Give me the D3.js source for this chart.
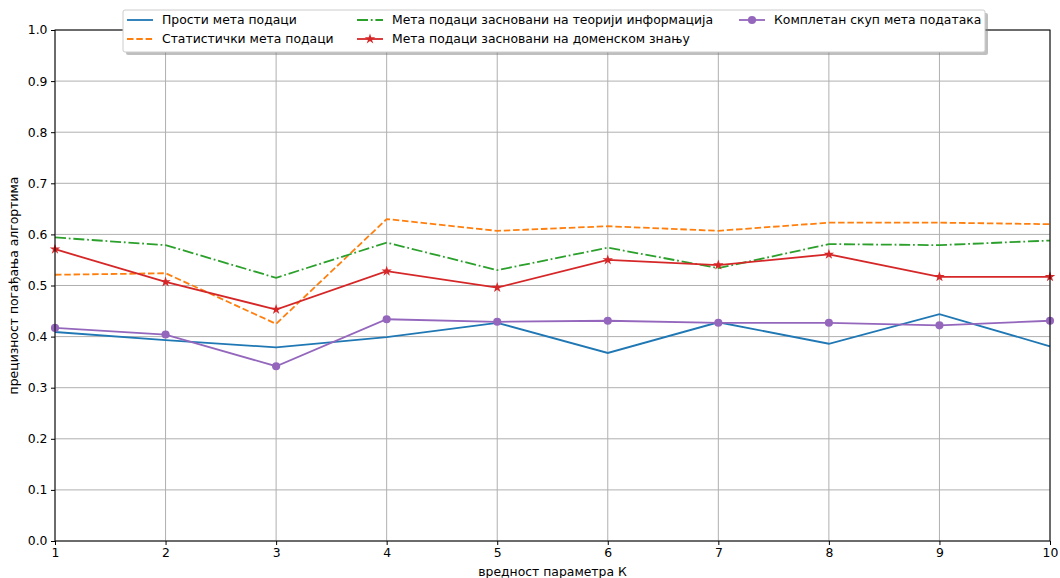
<!DOCTYPE html>
<html>
<head>
<meta charset="utf-8">
<script src="https://cdn.jsdelivr.net/npm/d3@7"></script>
<style>
  body { margin: 0; background: #fff; }
  svg { font-family: "DejaVu Sans", sans-serif; }
</style>
</head>
<body>
<svg id="chart" width="1060" height="578"></svg>
<script>
// K values on the x axis
const kValues = [1, 2, 3, 4, 5, 6, 7, 8, 9, 10];

// Precision for each group of meta-features
const simpleMeta      = [0.409, 0.393, 0.379, 0.399, 0.427, 0.368, 0.428, 0.386, 0.444, 0.381];
const statisticalMeta = [0.521, 0.524, 0.425, 0.630, 0.607, 0.616, 0.607, 0.623, 0.623, 0.620];
const infoTheoryMeta  = [0.594, 0.579, 0.515, 0.584, 0.530, 0.574, 0.534, 0.581, 0.579, 0.588];
const domainMeta      = [0.571, 0.507, 0.453, 0.528, 0.496, 0.550, 0.540, 0.561, 0.517, 0.517];
const completeMeta    = [0.417, 0.404, 0.342, 0.434, 0.429, 0.431, 0.427, 0.427, 0.422, 0.431];

const seriesNames = [
  "Прости мета подаци",
  "Статистички мета подаци",
  "Мета подаци засновани на теорији информација",
  "Мета подаци засновани на доменском знању",
  "Комплетан скуп мета података"
];

const yTicks = [0.0, 0.1, 0.2, 0.3, 0.4, 0.5, 0.6, 0.7, 0.8, 0.9, 1.0];
const xLabel = "вредност параметра К";
const yLabel = "прецизност погађања алгортима";

const series = [
  { name: seriesNames[0], values: simpleMeta,      color: "#1f77b4", dash: null,               marker: null },
  { name: seriesNames[1], values: statisticalMeta, color: "#ff7f0e", dash: "6.5,2.8",          marker: null },
  { name: seriesNames[2], values: infoTheoryMeta,  color: "#2ca02c", dash: "11,2.8,1.8,2.8",   marker: null },
  { name: seriesNames[3], values: domainMeta,      color: "#d62728", dash: null,               marker: "star" },
  { name: seriesNames[4], values: completeMeta,    color: "#9467bd", dash: null,               marker: "circle" }
];

const FS = 12.4;
const svg = d3.select("#chart");
const margin = { left: 55, right: 10, top: 30, bottom: 37 };
const W = 1060, H = 578;
const x = d3.scaleLinear().domain([1, 10]).range([margin.left, W - margin.right]);
const y = d3.scaleLinear().domain([0, 1]).range([H - margin.bottom, margin.top]);

// grid
const grid = svg.append("g");
grid.selectAll(".gx").data(kValues).enter().append("line")
  .attr("x1", d => x(d)).attr("x2", d => x(d))
  .attr("y1", y(0)).attr("y2", y(1))
  .attr("stroke", "#b0b0b0").attr("stroke-width", 1);
grid.selectAll(".gy").data(yTicks).enter().append("line")
  .attr("x1", x(1)).attr("x2", x(10))
  .attr("y1", d => y(d)).attr("y2", d => y(d))
  .attr("stroke", "#b0b0b0").attr("stroke-width", 1);

// axes
const xAxis = d3.axisBottom(x).tickValues(kValues).tickFormat(d3.format("d")).tickSize(4).tickPadding(3.5);
const yAxis = d3.axisLeft(y).tickValues(yTicks).tickFormat(d3.format(".1f")).tickSize(4).tickPadding(3.5);
const gx = svg.append("g").attr("transform", `translate(0,${y(0)})`).call(xAxis);
const gy = svg.append("g").attr("transform", `translate(${x(1)},0)`).call(yAxis);
[gx, gy].forEach(g => {
  g.select(".domain").remove();
  g.selectAll("text").attr("font-size", FS).attr("fill", "#000").attr("font-family", "DejaVu Sans");
  g.selectAll("line").attr("stroke", "#000").attr("stroke-width", 1);
});

// lines
const line = d3.line().x((d, i) => x(kValues[i])).y(d => y(d));
const starPath = d3.symbol().type(d3.symbolStar).size(34)();
const circlePath = d3.symbol().type(d3.symbolCircle).size(52)();

series.forEach(s => {
  svg.append("path").datum(s.values)
    .attr("d", line)
    .attr("fill", "none")
    .attr("stroke", s.color)
    .attr("stroke-width", 1.8)
    .attr("stroke-dasharray", s.dash);
  if (s.marker) {
    svg.append("g").selectAll("path").data(s.values).enter().append("path")
      .attr("d", s.marker === "star" ? starPath : circlePath)
      .attr("transform", (d, i) => `translate(${x(kValues[i])},${y(d)})`)
      .attr("fill", s.color);
  }
});

// frame
svg.append("rect")
  .attr("x", x(1)).attr("y", y(1))
  .attr("width", x(10) - x(1)).attr("height", y(0) - y(1))
  .attr("fill", "none").attr("stroke", "#000").attr("stroke-width", 1);

// axis titles
svg.append("text").attr("x", (x(1) + x(10)) / 2).attr("y", 576)
  .attr("text-anchor", "middle").attr("font-size", FS).text(xLabel);
svg.append("text")
  .attr("transform", `translate(18,${(y(0) + y(1)) / 2}) rotate(-90)`)
  .attr("text-anchor", "middle").attr("font-size", FS).text(yLabel);

// legend
const lg = svg.append("g");
const lx = 123, ly = 10, lw = 862, lh = 42;
lg.append("rect").attr("x", lx + 3).attr("y", ly + 3).attr("width", lw).attr("height", lh)
  .attr("fill", "#808080").attr("opacity", 0.5).attr("rx", 2);
lg.append("rect").attr("x", lx).attr("y", ly).attr("width", lw).attr("height", lh)
  .attr("fill", "#fff").attr("stroke", "#cccccc").attr("stroke-width", 1).attr("rx", 2);

const legendPos = [
  { hx: 127, ty: 20 }, { hx: 127, ty: 39 },
  { hx: 357, ty: 20 }, { hx: 357, ty: 39 },
  { hx: 739, ty: 20 }
];
series.forEach((s, i) => {
  const p = legendPos[i];
  lg.append("line").attr("x1", p.hx).attr("x2", p.hx + 26).attr("y1", p.ty).attr("y2", p.ty)
    .attr("stroke", s.color).attr("stroke-width", 1.8).attr("stroke-dasharray", s.dash);
  if (s.marker) {
    lg.append("path").attr("d", s.marker === "star" ? starPath : circlePath)
      .attr("transform", `translate(${p.hx + 13},${p.ty})`).attr("fill", s.color);
  }
  lg.append("text").attr("x", p.hx + 35).attr("y", p.ty).attr("dy", "0.35em")
    .attr("font-size", FS).text(s.name);
});
</script>
</body>
</html>
